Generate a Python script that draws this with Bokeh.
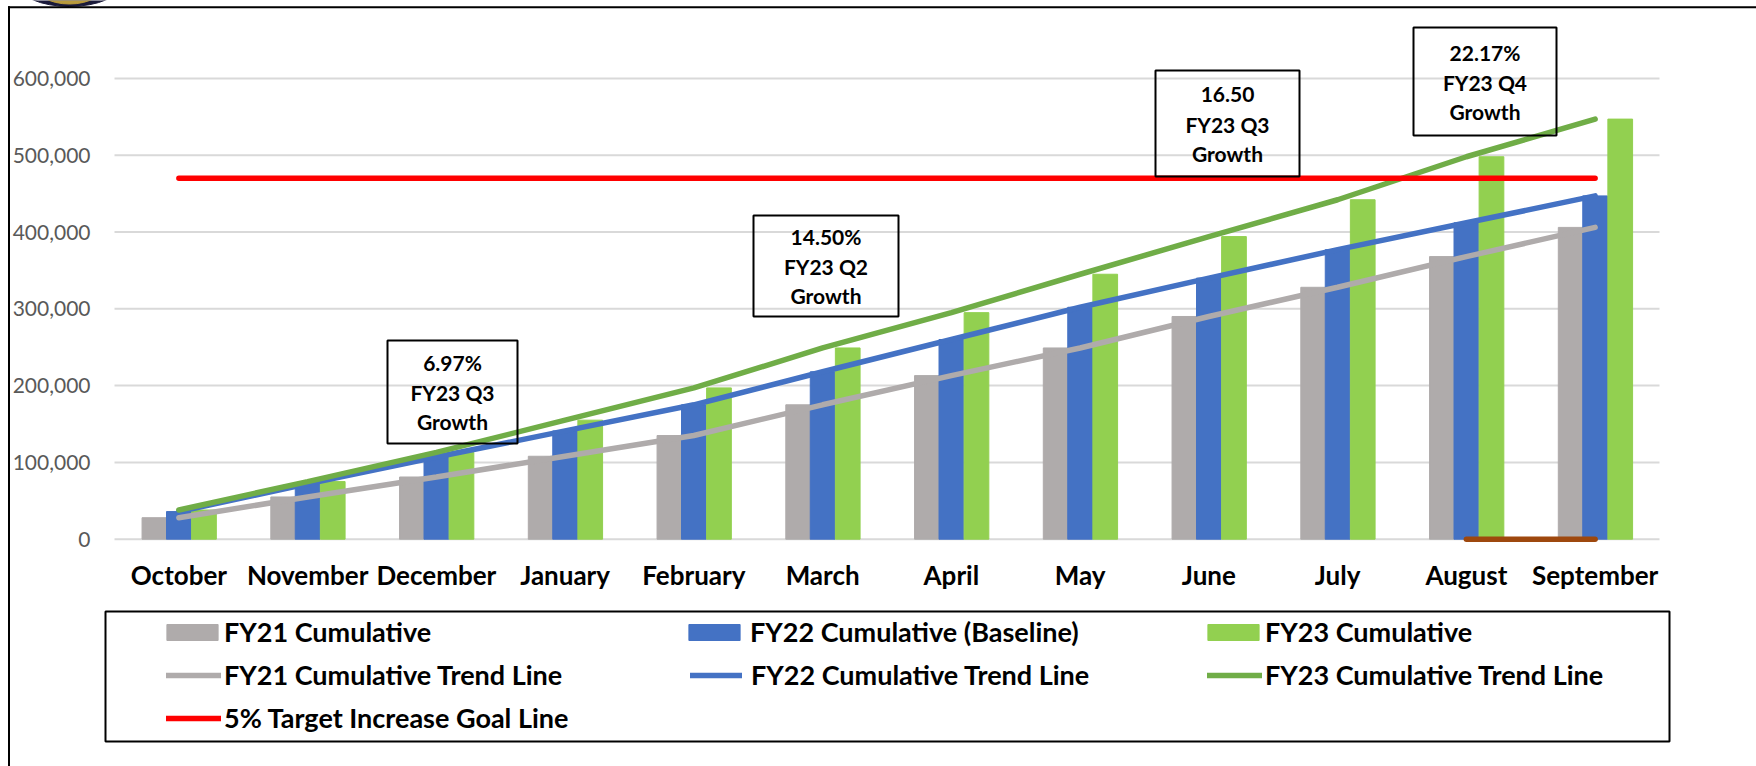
from bokeh.plotting import figure
from bokeh.models import (ColumnDataSource, Range1d, BoxAnnotation, Label, Legend, LegendItem,
                          FixedTicker, NumeralTickFormatter, LinearAxis)
from bokeh.embed import file_html
from bokeh.resources import INLINE

months = ["October", "November", "December", "January", "February", "March", "April", "May", "June", "July", "August", "September"]
fy21 = [28000, 55000, 81000, 108000, 135000, 175000, 213000, 249000, 290000, 328000, 368000, 406000]
fy22 = [36000, 72000, 107000, 141000, 175000, 218000, 260000, 302000, 340000, 377000, 412000, 447000]
fy23 = [38000, 75000, 113000, 155000, 197000, 249000, 295000, 345000, 394000, 442000, 498000, 547000]
goal = [470000] * 12
brown_idx = [10, 11]
brown_vals = [0, 0]
y_ticks = [0, 100000, 200000, 300000, 400000, 500000, 600000]
callouts = [
    ["6.97%", "FY23 Q3", "Growth"],
    ["14.50%", "FY23 Q2", "Growth"],
    ["16.50", "FY23 Q3", "Growth"],
    ["22.17%", "FY23 Q4", "Growth"],
]

GRAY, BLUE, LIGHT, GREEN, RED, BROWN = "#AFABAB", "#4472C4", "#92D050", "#70AD47", "#FF0000", "#9E480E"
FONT = "Lato"
FW, FH = 1756, 766
ZERO, LEFT, RIGHT = 538.7, 114, 1659
CAT = (RIGHT - LEFT) / 12
YS = 76.8 / 100000

def px_x(px):
    return (px - LEFT) / CAT

def px_y(py):
    return (ZERO - py) / YS

pos = [i + 0.5 for i in range(12)]
src = ColumnDataSource(dict(x=pos, x21=[v - 0.19 for v in pos], x22=pos, x23=[v + 0.195 for v in pos],
                            fy21=fy21, fy22=fy22, fy23=fy23, goal=goal))
p = figure(width=FW, height=FH, output_backend="svg", toolbar_location=None,
           x_range=Range1d(px_x(0), px_x(FW)), y_range=Range1d(px_y(FH), px_y(0)),
           min_border=0, x_axis_location=None, y_axis_location=None)
p.outline_line_color = None
p.grid.visible = False

# gridlines stop at the plot width
p.segment(x0=[0] * len(y_ticks), x1=[12] * len(y_ticks), y0=y_ticks, y1=y_ticks, line_color="#D9D9D9", line_width=2)

W = 0.192
b21 = p.vbar(x="x21", top="fy21", width=W, color=GRAY, source=src)
b22 = p.vbar(x="x22", top="fy22", width=W, color=BLUE, source=src)
b23 = p.vbar(x="x23", top="fy23", width=W, color=LIGHT, source=src)
lw = 5.5
l21 = p.line("x", "fy21", color=GRAY, line_width=lw, line_cap="round", source=src)
l22 = p.line("x", "fy22", color=BLUE, line_width=lw, line_cap="round", source=src)
l23 = p.line("x", "fy23", color=GREEN, line_width=lw, line_cap="round", source=src)
lg = p.line("x", "goal", color=RED, line_width=lw, line_cap="round", source=src)
p.line([pos[i] for i in brown_idx], brown_vals, color=BROWN, line_width=lw, line_cap="round")

# axes sitting inside the full-page frame
yaxis = LinearAxis(ticker=FixedTicker(ticks=y_ticks), formatter=NumeralTickFormatter(format="0,0"), fixed_location=0)
yaxis.axis_line_color = None
yaxis.major_tick_line_color = None
yaxis.minor_tick_line_color = None
yaxis.major_label_standoff = 18
yaxis.major_label_text_font = FONT
yaxis.major_label_text_font_size = "21px"
yaxis.major_label_text_color = "#595959"
p.add_layout(yaxis, "left")

xaxis = LinearAxis(ticker=FixedTicker(ticks=pos), fixed_location=0,
                   major_label_overrides={v: m for v, m in zip(pos, months)})
xaxis.axis_line_color = None
xaxis.major_tick_line_color = None
xaxis.minor_tick_line_color = None
xaxis.major_label_standoff = 14
xaxis.major_label_text_font = FONT
xaxis.major_label_text_font_style = "bold"
xaxis.major_label_text_font_size = "26px"
xaxis.major_label_text_color = "#000000"
p.add_layout(xaxis, "below")

def sbox(l, r, top, bottom, **kw):
    p.add_layout(BoxAnnotation(left=l, right=r, top=FH - top, bottom=FH - bottom, left_units="screen",
                               right_units="screen", top_units="screen", bottom_units="screen", **kw))

# page frame and logo remnant
logo_y = px_y(-17)
p.ellipse(x=[px_x(69)], y=[logo_y], width=104, height=46, width_units="screen", height_units="screen", color="#1A1A3A")
p.ellipse(x=[px_x(69)], y=[logo_y], width=72, height=41, width_units="screen", height_units="screen", color="#B89A3C")
sbox(7.5, 9.5, 5.7, FH, fill_color="#000000", fill_alpha=1, line_color=None)
sbox(7.5, FW, 5.7, 7.7, fill_color="#000000", fill_alpha=1, line_color=None)

# callouts
boxes = [(387, 517, 340, 443, [361.5, 392, 421]),
         (753, 898, 215, 316, [236, 266, 295]),
         (1155, 1299, 70, 176, [94, 124, 153]),
         (1413, 1556, 27, 135, [51.5, 81.5, 110.5])]
for (l, r, t, b, ys), texts in zip(boxes, callouts):
    sbox(l, r, t, b, fill_alpha=0, line_color="#000000", line_width=2, line_alpha=1)
    for y, t_ in zip(ys, texts):
        p.add_layout(Label(x=(l + r) / 2, y=FH - y, x_units="screen", y_units="screen", text=t_, text_font=FONT,
                           text_font_style="bold", text_font_size="21px", text_color="#000000",
                           text_align="center", text_baseline="middle"))

# legend
sbox(105, 1669, 611, 741, fill_alpha=0, line_color="#000000", line_width=2, line_alpha=1)
rows = [633, 676, 719]
entries = [
    (b21, "FY21 Cumulative", 160, rows[0], 64, 0),
    (b22, "FY22 Cumulative (Baseline)", 682, rows[0], 64, 4),
    (b23, "FY23 Cumulative", 1201, rows[0], 64, 0),
    (l21, "FY21 Cumulative Trend Line", 166, rows[1], 55, 3),
    (l22, "FY22 Cumulative Trend Line", 690, rows[1], 52, 9),
    (l23, "FY23 Cumulative Trend Line", 1207, rows[1], 55, 3),
    (lg, "5% Target Increase Goal Line", 166, rows[2], 55, 3),
]
for r, label, x, yc, gw, standoff in entries:
    h = 30
    leg = Legend(items=[LegendItem(label=label, renderers=[r])], location=(x, FH - (yc + h / 2)),
                 glyph_width=gw, glyph_height=20, label_standoff=standoff, label_height=h,
                 padding=0, margin=0, spacing=0, border_line_color=None, background_fill_alpha=0,
                 label_text_font=FONT, label_text_font_style="bold", label_text_font_size="27px",
                 label_text_color="#000000")
    p.add_layout(leg, "center")

open("out.html", "w").write(file_html(p, INLINE))
